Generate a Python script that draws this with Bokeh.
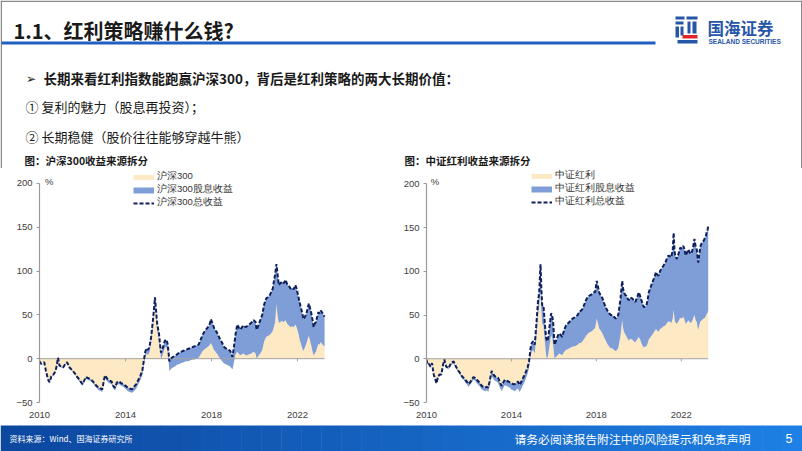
from bokeh.plotting import figure
from bokeh.models import Range1d, FixedTicker, Label, BoxAnnotation, Legend, LegendItem, ColumnDataSource
from bokeh.layouts import column, row
from bokeh.embed import file_html
from bokeh.resources import INLINE

# ---------------- data ----------------
x_ticks = [2010, 2014, 2018, 2022]
y_ticks = [-50, 0, 50, 100, 150, 200]

hs_names = ["沪深300", "沪深300股息收益", "沪深300总收益"]
csi_names = ["中证红利", "中证红利股息收益", "中证红利总收益"]

hs_dates = [2010.00, 2010.08, 2010.15, 2010.22, 2010.30, 2010.40, 2010.47, 2010.55, 2010.65, 2010.75,
            2010.82, 2010.86, 2010.93, 2011.02, 2011.10, 2011.20, 2011.28, 2011.40, 2011.55, 2011.65,
            2011.72, 2011.80, 2011.88, 2012.00, 2012.08, 2012.15, 2012.25, 2012.33, 2012.45, 2012.55,
            2012.65, 2012.75, 2012.85, 2012.92, 2013.00, 2013.05, 2013.15, 2013.25, 2013.35, 2013.45,
            2013.52, 2013.60, 2013.70, 2013.80, 2013.90, 2014.00, 2014.10, 2014.20, 2014.30, 2014.40,
            2014.50, 2014.60, 2014.70, 2014.78, 2014.86, 2014.92, 2014.98, 2015.05, 2015.12, 2015.20,
            2015.28, 2015.33, 2015.37, 2015.42, 2015.48, 2015.55, 2015.60, 2015.65, 2015.70, 2015.76,
            2015.82, 2015.88, 2015.95, 2016.00, 2016.04, 2016.10, 2016.20, 2016.30, 2016.40, 2016.50,
            2016.60, 2016.70, 2016.80, 2016.90, 2017.00, 2017.10, 2017.20, 2017.30, 2017.40, 2017.50,
            2017.60, 2017.70, 2017.80, 2017.90, 2017.97, 2018.05, 2018.12, 2018.25, 2018.40, 2018.50,
            2018.56, 2018.65, 2018.72, 2018.80, 2018.87, 2018.93, 2018.98, 2019.05, 2019.12, 2019.20,
            2019.28, 2019.34, 2019.42, 2019.50, 2019.58, 2019.65, 2019.75, 2019.85, 2019.96, 2020.05,
            2020.10, 2020.18, 2020.27, 2020.36, 2020.45, 2020.55, 2020.62, 2020.70, 2020.78, 2020.85,
            2020.90, 2020.96, 2021.02, 2021.08, 2021.13, 2021.20, 2021.28, 2021.36, 2021.44, 2021.52,
            2021.60, 2021.68, 2021.75, 2021.82, 2021.90, 2021.96, 2022.03, 2022.10, 2022.16, 2022.22,
            2022.28, 2022.35, 2022.42, 2022.48, 2022.53, 2022.58, 2022.64, 2022.70, 2022.75, 2022.80,
            2022.86, 2022.92, 2022.97, 2023.03, 2023.08, 2023.14, 2023.20, 2023.26]
hs_total = [-3, -6, -5, -4, -14, -24, -27, -20, -18, -14,
            -5, 1, -8, -9, -10, -6, -4, -10, -14, -17,
            -20, -22, -25, -29, -25, -21, -22, -23, -25, -28,
            -31, -33, -34, -35, -24, -19, -23, -25, -26, -32,
            -33, -27, -26, -28, -29, -31, -33, -34, -35, -32,
            -29, -24, -19, -14, -1, 8, 12, 10, 14, 26,
            45, 58, 70, 55, 38, 30, 18, 7, 10, 14,
            20, 22, 18, 8, -3, 0, 2, 3, 5, 7,
            8, 9, 10, 11, 12, 13, 14, 15, 16, 22,
            28, 32, 35, 38, 45, 40, 35, 30, 22, 18,
            14, 12, 11, 10, 9, 5, 2, 15, 28, 39,
            35, 33, 36, 38, 36, 37, 39, 41, 44, 42,
            33, 38, 44, 50, 62, 69, 70, 72, 76, 80,
            88, 96, 108, 95, 84, 86, 88, 86, 90, 85,
            83, 80, 81, 79, 84, 80, 72, 64, 58, 52,
            45, 48, 52, 58, 63, 58, 52, 44, 36, 40,
            42, 48, 53, 52, 55, 53, 50, 48]
hs_price = [-3, -6, -5, -4, -14, -24, -27, -21, -19, -15,
            -6, 0, -9, -10, -11, -7, -5, -11, -15, -18,
            -22, -24, -27, -31, -27, -23, -24, -25, -27, -30,
            -33, -36, -37, -38, -27, -22, -26, -28, -29, -35,
            -36, -30, -29, -31, -32, -34, -37, -38, -39, -37,
            -34, -29, -24, -19, -6, 2, 6, 4, 8, 20,
            38, 52, 63, 48, 31, 23, 10, 0, 2, 7,
            12, 14, 10, 0, -14, -12, -10, -9, -7, -6,
            -5, -4, -3, -3, -2, -1, -1, 0, 1, 5,
            9, 11, 13, 15, 18, 14, 10, 6, 0, -3,
            -5, -6, -7, -8, -9, -11, -12, -3, 5, 8,
            5, 4, 5, 6, 4, 4, 5, 6, 8, 6,
            0, 3, 6, 10, 20, 25, 26, 27, 29, 32,
            36, 42, 62, 48, 41, 42, 43, 42, 44, 40,
            38, 36, 37, 36, 39, 36, 30, 22, 17, 12,
            9, 13, 18, 23, 26, 21, 15, 8, 4, 6,
            8, 13, 17, 16, 19, 17, 15, 14]

csi_dates = [2010.00, 2010.06, 2010.12, 2010.19, 2010.26, 2010.34, 2010.42, 2010.47, 2010.55, 2010.62,
             2010.70, 2010.78, 2010.84, 2010.93, 2011.04, 2011.15, 2011.28, 2011.39, 2011.51, 2011.60,
             2011.67, 2011.75, 2011.82, 2011.90, 2011.98, 2012.05, 2012.13, 2012.21, 2012.29, 2012.37,
             2012.45, 2012.52, 2012.60, 2012.68, 2012.76, 2012.84, 2012.91, 2012.98, 2013.07, 2013.15,
             2013.22, 2013.30, 2013.38, 2013.46, 2013.54, 2013.62, 2013.69, 2013.77, 2013.85, 2013.93,
             2014.00, 2014.08, 2014.16, 2014.24, 2014.31, 2014.39, 2014.47, 2014.55, 2014.63, 2014.70,
             2014.76, 2014.83, 2014.90, 2014.96, 2015.02, 2015.10, 2015.17, 2015.25, 2015.31, 2015.37,
             2015.41, 2015.45, 2015.51, 2015.58, 2015.64, 2015.69, 2015.74, 2015.80, 2015.87, 2015.92,
             2015.97, 2016.03, 2016.09, 2016.14, 2016.20, 2016.26, 2016.33, 2016.39, 2016.46, 2016.52,
             2016.57, 2016.65, 2016.73, 2016.80, 2016.88, 2016.96, 2017.04, 2017.12, 2017.20, 2017.28,
             2017.35, 2017.43, 2017.51, 2017.58, 2017.66, 2017.74, 2017.82, 2017.88, 2017.94, 2018.02,
             2018.08, 2018.13, 2018.21, 2018.29, 2018.36, 2018.44, 2018.52, 2018.60, 2018.68, 2018.75,
             2018.83, 2018.91, 2018.97, 2019.03, 2019.09, 2019.14, 2019.18, 2019.22, 2019.26, 2019.30,
             2019.36, 2019.41, 2019.47, 2019.53, 2019.60, 2019.69, 2019.76, 2019.84, 2019.92, 2020.00,
             2020.06, 2020.12, 2020.18, 2020.23, 2020.30, 2020.36, 2020.42, 2020.47, 2020.53, 2020.59,
             2020.65, 2020.70, 2020.76, 2020.81, 2020.87, 2020.93, 2021.00, 2021.06, 2021.15, 2021.25,
             2021.33, 2021.40, 2021.47, 2021.53, 2021.60, 2021.64, 2021.68, 2021.71, 2021.79, 2021.87,
             2021.95, 2022.02, 2022.10, 2022.16, 2022.21, 2022.28, 2022.34, 2022.42, 2022.49, 2022.56,
             2022.62, 2022.68, 2022.73, 2022.77, 2022.80, 2022.85, 2022.91, 2022.96, 2023.00, 2023.06,
             2023.11, 2023.16, 2023.19, 2023.23, 2023.27]
csi_total = [-1, -7, -6, -9, -5, -18, -24, -28, -20, -18,
             -18, -7, -1, -9, -11, -5, -3, -9, -14, -17,
             -20, -22, -24, -26, -29, -27, -24, -21, -22, -24,
             -26, -28, -31, -32, -33, -32, -33, -25, -14, -18,
             -20, -21, -22, -27, -31, -27, -24, -25, -26, -27,
             -28, -29, -29, -27, -26, -30, -26, -22, -18, -14,
             -10, -3, 12, 18, 20, 16, 38, 65, 76, 108,
             80, 61, 61, 38, 23, 20, 25, 38, 52, 50,
             40, 16, 20, 23, 27, 29, 27, 25, 31, 35,
             38, 40, 42, 44, 46, 47, 48, 50, 54, 55,
             57, 62, 67, 70, 72, 73, 74, 76, 76, 89,
             82, 76, 72, 69, 64, 59, 55, 52, 50, 50,
             48, 46, 47, 50, 60, 69, 80, 89, 80, 76,
             73, 72, 69, 67, 70, 69, 67, 65, 70, 76,
             72, 67, 63, 59, 60, 61, 68, 76, 80, 84,
             88, 91, 95, 99, 96, 95, 100, 103, 106, 110,
             115, 118, 117, 116, 125, 144, 125, 118, 114, 120,
             127, 126, 129, 124, 118, 122, 125, 120, 121, 128,
             137, 128, 125, 116, 110, 120, 129, 132, 133, 135,
             138, 140, 144, 146, 152]
csi_price = [-1, -7, -6, -9, -5, -18, -25, -29, -21, -19,
             -19, -8, -2, -10, -12, -7, -5, -11, -16, -19,
             -22, -24, -27, -29, -32, -30, -27, -24, -25, -28,
             -30, -32, -35, -36, -37, -36, -38, -30, -19, -23,
             -25, -26, -28, -33, -37, -33, -30, -31, -32, -33,
             -35, -36, -37, -35, -34, -38, -34, -30, -26, -21,
             -17, -10, 3, 8, 10, 6, 25, 50, 60, 80,
             55, 40, 38, 18, 3, 0, 6, 16, 27, 24,
             15, 0, 2, 3, 5, 6, 5, 4, 7, 9,
             10, 11, 12, 13, 14, 14, 15, 16, 18, 18,
             20, 23, 26, 28, 30, 31, 32, 34, 35, 46,
             40, 35, 32, 29, 25, 21, 17, 14, 12, 12,
             10, 9, 10, 12, 20, 27, 36, 44, 35, 31,
             28, 26, 23, 21, 23, 22, 20, 19, 22, 25,
             22, 18, 15, 13, 14, 14, 18, 22, 24, 26,
             28, 30, 32, 34, 32, 31, 34, 35, 37, 38,
             41, 43, 42, 41, 46, 56, 46, 42, 40, 43,
             47, 46, 48, 44, 40, 42, 44, 41, 42, 46,
             50, 44, 42, 36, 33, 39, 43, 44, 45, 46,
             47, 49, 51, 52, 55]

# ---------------- style ----------------
YELLOW = "#fde9c3"
BLUE = "#7f9dd6"
NAVY = "#0f1f5a"
CJK = "Noto Sans CJK SC"
NUM = "Liberation Sans"


def chart(width, border_left, border_bottom, x_end, y_end, dates, price, total, names,
          legend_xy, pct_xy, row_h):
    p = figure(width=width, height=252, x_range=Range1d(2010, x_end), y_range=Range1d(-50, y_end),
               output_backend="svg", toolbar_location=None,
               min_border_left=border_left, min_border_right=0, min_border_top=0,
               min_border_bottom=border_bottom, outline_line_color=None,
               background_fill_color="white", border_fill_color="white")
    p.grid.visible = False
    src = ColumnDataSource(dict(x=dates, price=price, total=total, zero=[0] * len(dates)))
    p.varea(x="x", y1="zero", y2="price", source=src, fill_color=YELLOW)
    p.varea(x="x", y1="price", y2="total", source=src, fill_color=BLUE)
    p.segment(x0=[dates[0]], y0=[0], x1=[dates[-1]], y1=[0], line_color="#a3a3a3", line_width=1)
    p.segment(x0=x_ticks[1:], x1=x_ticks[1:], y0=[0] * 3, y1=[-3] * 3, line_color="#a3a3a3", line_width=1)
    r_tot = p.line(x="x", y="total", source=src, line_color=NAVY, line_width=2, line_dash="4 2")

    # legend proxies (one NaN point each: nothing drawn in the plot)
    nan = float("nan")
    r_y = p.line(x=[dates[0]], y=[nan], line_color=YELLOW, line_width=5)
    r_b = p.line(x=[dates[0]], y=[nan], line_color=BLUE, line_width=6)
    leg = Legend(items=[LegendItem(label=names[0], renderers=[r_y]),
                        LegendItem(label=names[1], renderers=[r_b]),
                        LegendItem(label=names[2], renderers=[r_tot])],
                 location=legend_xy, padding=0, margin=0, spacing=0,
                 glyph_width=21, glyph_height=row_h, label_height=row_h, label_standoff=3,
                 label_text_font=NUM, label_text_font_size="9.5px", label_text_color="#333333",
                 border_line_alpha=0, background_fill_alpha=0)
    p.add_layout(leg)

    p.add_layout(Label(x=pct_xy[0], y=pct_xy[1], text="%", text_font=NUM, text_font_size="9.5px",
                       text_color="#404040", text_baseline="middle"))

    ya = p.yaxis[0]
    ya.ticker = FixedTicker(ticks=y_ticks)
    ya.bounds = (-50, 200)
    ya.axis_line_color = "#9a9a9a"
    ya.axis_line_width = 1.2
    ya.major_tick_line_color = "#9a9a9a"
    ya.major_tick_out = 3
    ya.major_tick_in = 0
    ya.minor_tick_line_color = None
    ya.major_label_standoff = 4
    ya.major_label_text_font = NUM
    ya.major_label_text_font_size = "9.5px"
    ya.major_label_text_color = "#404040"

    xa = p.xaxis[0]
    xa.ticker = FixedTicker(ticks=x_ticks)
    xa.axis_line_color = None
    xa.major_tick_line_color = None
    xa.minor_tick_line_color = None
    xa.major_label_standoff = 3
    xa.major_label_text_font = NUM
    xa.major_label_text_font_size = "9.5px"
    xa.major_label_text_color = "#404040"
    return p


# left chart: page x 0..400, frame from x=39 (21.5 px/yr); y -50 at 403, 0.88 px/unit
c1 = chart(400, 39, 17, 2010 + 361 / 21.5, -50 + 235 / 0.88, hs_dates, hs_price, hs_total, hs_names,
           (94, 193), (2010.25, 202), 12)
# right chart: page x 400..802, frame from x=423 (21.4 px/yr); y -50 at 405
c2 = chart(402, 23, 15, 2010 + 379 / 21.4, -50 + 237 / 0.886, csi_dates, csi_price, csi_total, csi_names,
           (105, 194), (2010.2, 203), 12)

# ---------------- header ----------------
hdr = figure(width=802, height=168, x_range=Range1d(0, 802), y_range=Range1d(168, 0),
             output_backend="svg", toolbar_location=None, x_axis_type=None, y_axis_type=None,
             min_border=0, outline_line_color=None, background_fill_color="white",
             border_fill_color="white")
hdr.grid.visible = False


def txt(fig, x, y, s, size, color="#1a1a1a", bold=False, font=CJK, align="left"):
    fig.add_layout(Label(x=x, y=y, text=s, text_font=font, text_font_size=size,
                         text_font_style="bold" if bold else "normal", text_color=color,
                         text_baseline="middle", text_align=align))


# slide frame lines (decoration)
hdr.add_layout(BoxAnnotation(left=0, right=1.5, top=0, bottom=168, fill_color="#8a8a8a",
                             fill_alpha=1, line_color=None))
hdr.add_layout(BoxAnnotation(left=800.5, right=802, top=0, bottom=168, fill_color="#8a8a8a",
                             fill_alpha=1, line_color=None))
hdr.add_layout(BoxAnnotation(left=0, right=802, top=0, bottom=1.5, fill_color="#8a8a8a",
                             fill_alpha=1, line_color=None))

txt(hdr, 13, 30, "1.1、红利策略赚什么钱?", "20px", bold=True)
hdr.add_layout(BoxAnnotation(left=1, right=655, top=41, bottom=44, fill_color="#1f5fc2",
                             fill_alpha=1, line_color=None))
# logo (decoration)
LB = "#2756a8"
LR = "#e0262b"
for (l, r, t, b, c) in [(675, 684, 16, 19, LB), (686, 697, 16, 19, LB), (675, 683, 21, 24, LB),
                        (675, 678.5, 26, 37, LB), (680, 683, 26, 35, LB),
                        (687, 690, 21, 33, LB), (692, 696, 21, 33, LB),
                        (682, 697, 34.5, 38, LR), (677, 697, 39.5, 43, LB)]:
    hdr.add_layout(BoxAnnotation(left=l, right=r, top=t, bottom=b, fill_color=c, fill_alpha=1,
                                 line_color=None))
txt(hdr, 707, 27.5, "国海证券", "16.5px", color=LB, bold=True)
txt(hdr, 708, 41, "SEALAND SECURITIES", "6.5px", color=LB, bold=True, font=NUM)

txt(hdr, 25, 77, "➢", "12px", color="#1a1a1a")
txt(hdr, 43, 77, "长期来看红利指数能跑赢沪深300，背后是红利策略的两大长期价值：", "13.5px", bold=True)
txt(hdr, 25, 106, "① 复利的魅力（股息再投资）；", "13px")
txt(hdr, 25, 136, "② 长期稳健（股价往往能够穿越牛熊）", "13px")
txt(hdr, 24, 160, "图：沪深300收益来源拆分", "10.5px", bold=True)
txt(hdr, 404, 160, "图：中证红利收益来源拆分", "10.5px", bold=True)

# ---------------- footer ----------------
ftr = figure(width=802, height=31, x_range=Range1d(0, 802), y_range=Range1d(451, 420),
             output_backend="svg", toolbar_location=None, x_axis_type=None, y_axis_type=None,
             min_border=0, outline_line_color=None, background_fill_color="white",
             border_fill_color="white")
ftr.grid.visible = False
n = 40
c0 = (13, 72, 160)
c1c = (30, 128, 228)
for i in range(n):
    f = i / (n - 1)
    col = "#%02x%02x%02x" % tuple(int(c0[k] + (c1c[k] - c0[k]) * f) for k in range(3))
    l = 802 * i / n
    r = 802 * (i + 1) / n + 0.5
    ftr.add_layout(BoxAnnotation(left=l, right=r, top=425, bottom=451, fill_color=col, fill_alpha=1,
                                 line_color=None))
txt(ftr, 9, 438, "资料来源：Wind、国海证券研究所", "8px", color="white")
txt(ftr, 514, 438, "请务必阅读报告附注中的风险提示和免责声明", "11.8px", color="white")
txt(ftr, 792, 438, "5", "12.5px", color="white", font=NUM, align="right")

layout = column(hdr, row(c1, c2), ftr)
open("out.html", "w").write(file_html(layout, INLINE))
